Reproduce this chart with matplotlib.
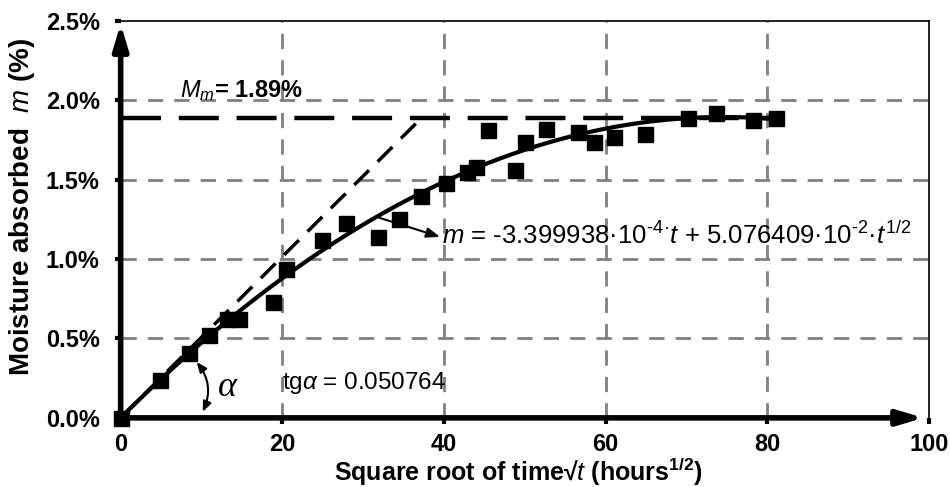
import numpy as np
import matplotlib
matplotlib.use("Agg")
import matplotlib.pyplot as plt

plt.rcParams['font.family'] = ['Liberation Sans', 'DejaVu Sans']
plt.rcParams['mathtext.fontset'] = 'custom'
plt.rcParams['mathtext.rm'] = 'Liberation Sans'
plt.rcParams['mathtext.it'] = 'Liberation Sans:italic'
plt.rcParams['mathtext.bf'] = 'Liberation Sans:bold'

# data: square root of time (hours^1/2) vs moisture absorbed (%)
sqrt_t = [0, 4.9, 8.5, 10.9, 13.1, 14.7, 18.9, 20.5, 24.9, 27.9, 31.8, 34.4,
          37.2, 40.2, 42.8, 44.0, 45.5, 48.8, 50.0, 52.6, 56.6, 58.5, 61.0,
          64.9, 70.2, 73.6, 78.2, 81.1]
moisture = [0.0, 0.24, 0.41, 0.52, 0.62, 0.62, 0.73, 0.94, 1.12, 1.23, 1.14, 1.25,
            1.40, 1.48, 1.55, 1.58, 1.81, 1.56, 1.74, 1.82, 1.80, 1.74, 1.77,
            1.79, 1.89, 1.92, 1.875, 1.89]

# fitted model coefficients (as printed on the chart)
coef_t = -3.399938e-4
coef_sqrt = 5.076409e-2
tg_alpha = 0.050764
M_m = 1.89

x_ticks = [0, 20, 40, 60, 80, 100]
y_ticks = [0.0, 0.5, 1.0, 1.5, 2.0, 2.5]

fig = plt.figure(figsize=(9.5, 4.87), dpi=100)
ax = fig.add_axes([0.127, 0.142, 0.851, 0.815])
ax.set_xlim(0, 100)
ax.set_ylim(0, 2.5)

# grid
grid_kw = dict(color='#808080', lw=2.0, ls=(0, (5.5, 4)), zorder=1)
for gx in x_ticks[1:-1]:
    ax.plot([gx, gx], [0, 2.5], **grid_kw)
for gy in y_ticks[1:-1]:
    ax.plot([0, 100], [gy, gy], **grid_kw)

# fitted curve
xs = np.linspace(0, sqrt_t[-1], 300)
ys = coef_t * xs**2 + coef_sqrt * xs
ax.plot(xs, ys, color='black', lw=3, zorder=3)

# tangent line and saturation level
x_cross = M_m / tg_alpha
ax.plot([0, x_cross], [0, M_m], color='black', lw=2.5, ls=(0, (6, 3.5)), zorder=2)
ax.plot([0, sqrt_t[-1]], [M_m, M_m], color='black', lw=3.2, ls=(0, (9, 4)), zorder=2)

# data points
ax.plot(sqrt_t, moisture, 's', color='black', ms=10.8, zorder=4, clip_on=False)

# spines
for s in ['top', 'right']:
    ax.spines[s].set_linewidth(1.2)
for s in ['left', 'bottom']:
    ax.spines[s].set_visible(False)

# axis arrows
ax.annotate('', xy=(0.993, 0), xytext=(0, 0), xycoords='axes fraction',
            arrowprops=dict(arrowstyle='-|>,head_length=1.5,head_width=0.45',
                            lw=4, color='black', shrinkA=0, shrinkB=0), zorder=5)
ax.annotate('', xy=(0, 0.993), xytext=(0, 0), xycoords='axes fraction',
            arrowprops=dict(arrowstyle='-|>,head_length=1.5,head_width=0.45',
                            lw=4, color='black', shrinkA=0, shrinkB=0), zorder=5)

ax.set_xticks(x_ticks)
ax.set_yticks(y_ticks)
ax.set_xticklabels([str(v) for v in x_ticks], fontweight='bold', fontsize=17)
ax.set_yticklabels(['%.1f%%' % v for v in y_ticks], fontweight='bold', fontsize=17)
ax.tick_params(axis='y', direction='out', length=4, width=3, color='black', pad=11)
ax.tick_params(axis='x', direction='out', length=4, width=3, color='black', pad=7)

fig.text(518 / 950, 1 - 481 / 487,
         r'Square root of time√$\mathbf{\mathit{t}}$ (hours$^{\mathbf{1/2}}$)',
         fontweight='bold', fontsize=18, ha='center', va='baseline')
fig.text(22 / 950, 1 - 207 / 487, r'Moisture absorbed  $\mathbf{\mathit{m}}$ (%)',
         fontweight='bold', fontsize=20, rotation=90, ha='center', va='center')

# annotations
ax.text(7.3, 2.06, r'$M_m$= 1.89%', fontsize=17, fontweight='bold',
        va='center', ha='left')
ax.text(39.8, 1.15,
        r'$m$ = -3.399938·10$^{‐4}$$^{·}$$t$ + 5.076409·10$^{‐2}$·$t^{1/2}$',
        fontsize=18.5, va='center', ha='left')
ax.annotate('', xy=(39.5, 1.14), xytext=(32.0, 1.26),
            arrowprops=dict(arrowstyle='-|>,head_length=0.8,head_width=0.3',
                            lw=1.5, color='black', shrinkA=0, shrinkB=0))
ax.text(20.0, 0.22, r'tg$\alpha$ = 0.050764', fontsize=17.5, va='center', ha='left')
ax.text(13.2, 0.19, 'α', fontsize=26, va='center', ha='center',
        family='Liberation Serif', style='italic')
ax.annotate('', xy=(9.4, 0.352), xytext=(10.15, 0.038),
            arrowprops=dict(arrowstyle='<|-|>,head_length=0.6,head_width=0.25',
                            lw=1.5, color='black', shrinkA=0, shrinkB=0,
                            connectionstyle='arc3,rad=0.3'))

fig.savefig('out.png', dpi=100)
